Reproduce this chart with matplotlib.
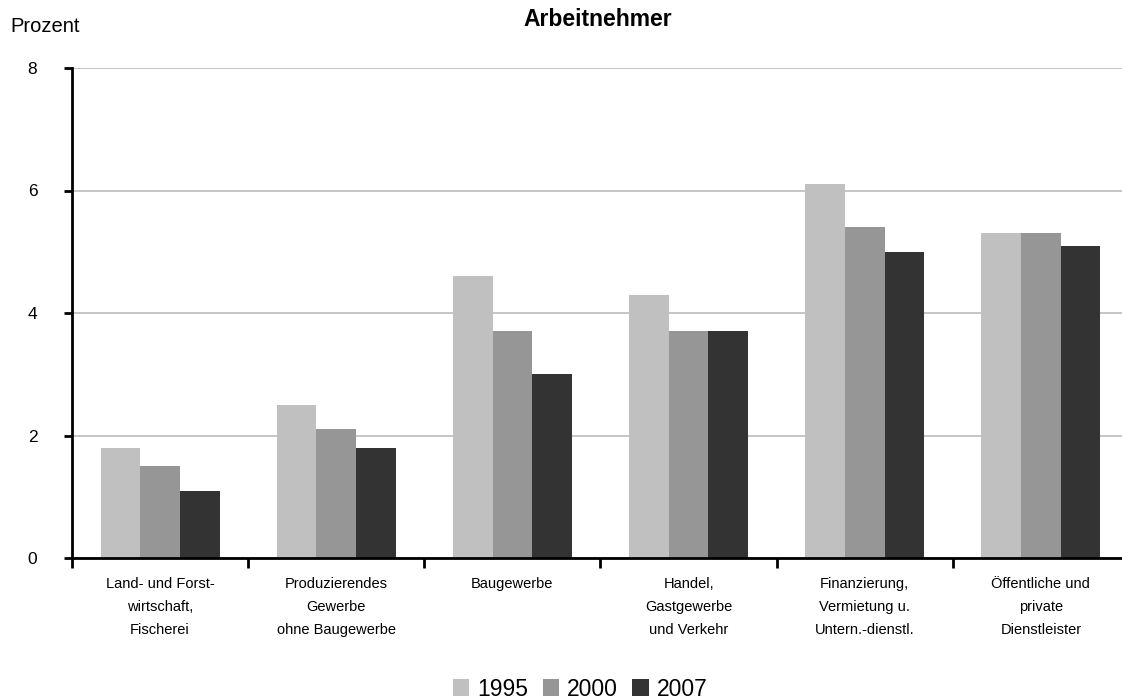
import numpy as np
import matplotlib.pyplot as plt
from matplotlib.patches import Patch

plt.rcParams['font.family'] = ['Liberation Sans', 'DejaVu Sans']

# Data
categories = [
    'Land- und Forst-\nwirtschaft,\nFischerei',
    'Produzierendes\nGewerbe\nohne Baugewerbe',
    'Baugewerbe',
    'Handel,\nGastgewerbe\nund Verkehr',
    'Finanzierung,\nVermietung u.\nUntern.-dienstl.',
    'Öffentliche und\nprivate\nDienstleister',
]
years = ['1995', '2000', '2007']
values_1995 = [1.8, 2.5, 4.6, 4.3, 6.1, 5.3]
values_2000 = [1.5, 2.1, 3.7, 3.7, 5.4, 5.3]
values_2007 = [1.1, 1.8, 3.0, 3.7, 5.0, 5.1]
colors = ['#c0c0c0', '#969696', '#333333']

fig = plt.figure(figsize=(11.22, 7.0), dpi=100)
ax = fig.add_axes([72 / 1122, 1 - 558 / 700, 1057 / 1122, 490 / 700])

x = np.arange(len(categories))
width = 0.225
for i, (vals, col) in enumerate(zip([values_1995, values_2000, values_2007], colors)):
    ax.bar(x + (i - 1) * width, vals, width=width, color=col, zorder=2)

ax.set_xlim(-0.5, len(categories) - 0.5)
ax.set_ylim(0, 8)
ax.set_yticks([0, 2, 4, 6, 8])
ax.yaxis.grid(True, color='#c0c0c0', linewidth=1.3, zorder=0)
ax.set_axisbelow(True)

for s in ['top', 'right']:
    ax.spines[s].set_visible(False)
for s in ['left', 'bottom']:
    ax.spines[s].set_linewidth(2)
    ax.spines[s].set_color('black')

ax.set_xticks(x)
ax.set_xticklabels(categories, fontsize=10.5, linespacing=1.8)
ax.set_xticks(np.arange(-0.5, len(categories)), minor=True)
ax.tick_params(axis='x', which='major', length=0, pad=14)
ax.tick_params(axis='x', which='minor', length=7, width=2, direction='out')
ax.tick_params(axis='y', length=6, width=2, direction='out', labelsize=12.5, pad=19)

fig.text(10 / 1122, 1 - 27 / 700, 'Prozent', fontsize=14.5, va='center', ha='left')
fig.text(598 / 1122, 1 - 19 / 700, 'Arbeitnehmer', fontsize=16.5, fontweight='bold',
         va='center', ha='center')

handles = [Patch(facecolor=c, edgecolor='none') for c in colors]
fig.legend(handles, years, loc='center', bbox_to_anchor=(580 / 1122, 1 - 689 / 700),
           ncol=3, frameon=False, fontsize=16.5, handlelength=0.7, handleheight=0.7,
           handletextpad=0.35, columnspacing=0.65, borderpad=0)

fig.savefig('out.png', dpi=100)
